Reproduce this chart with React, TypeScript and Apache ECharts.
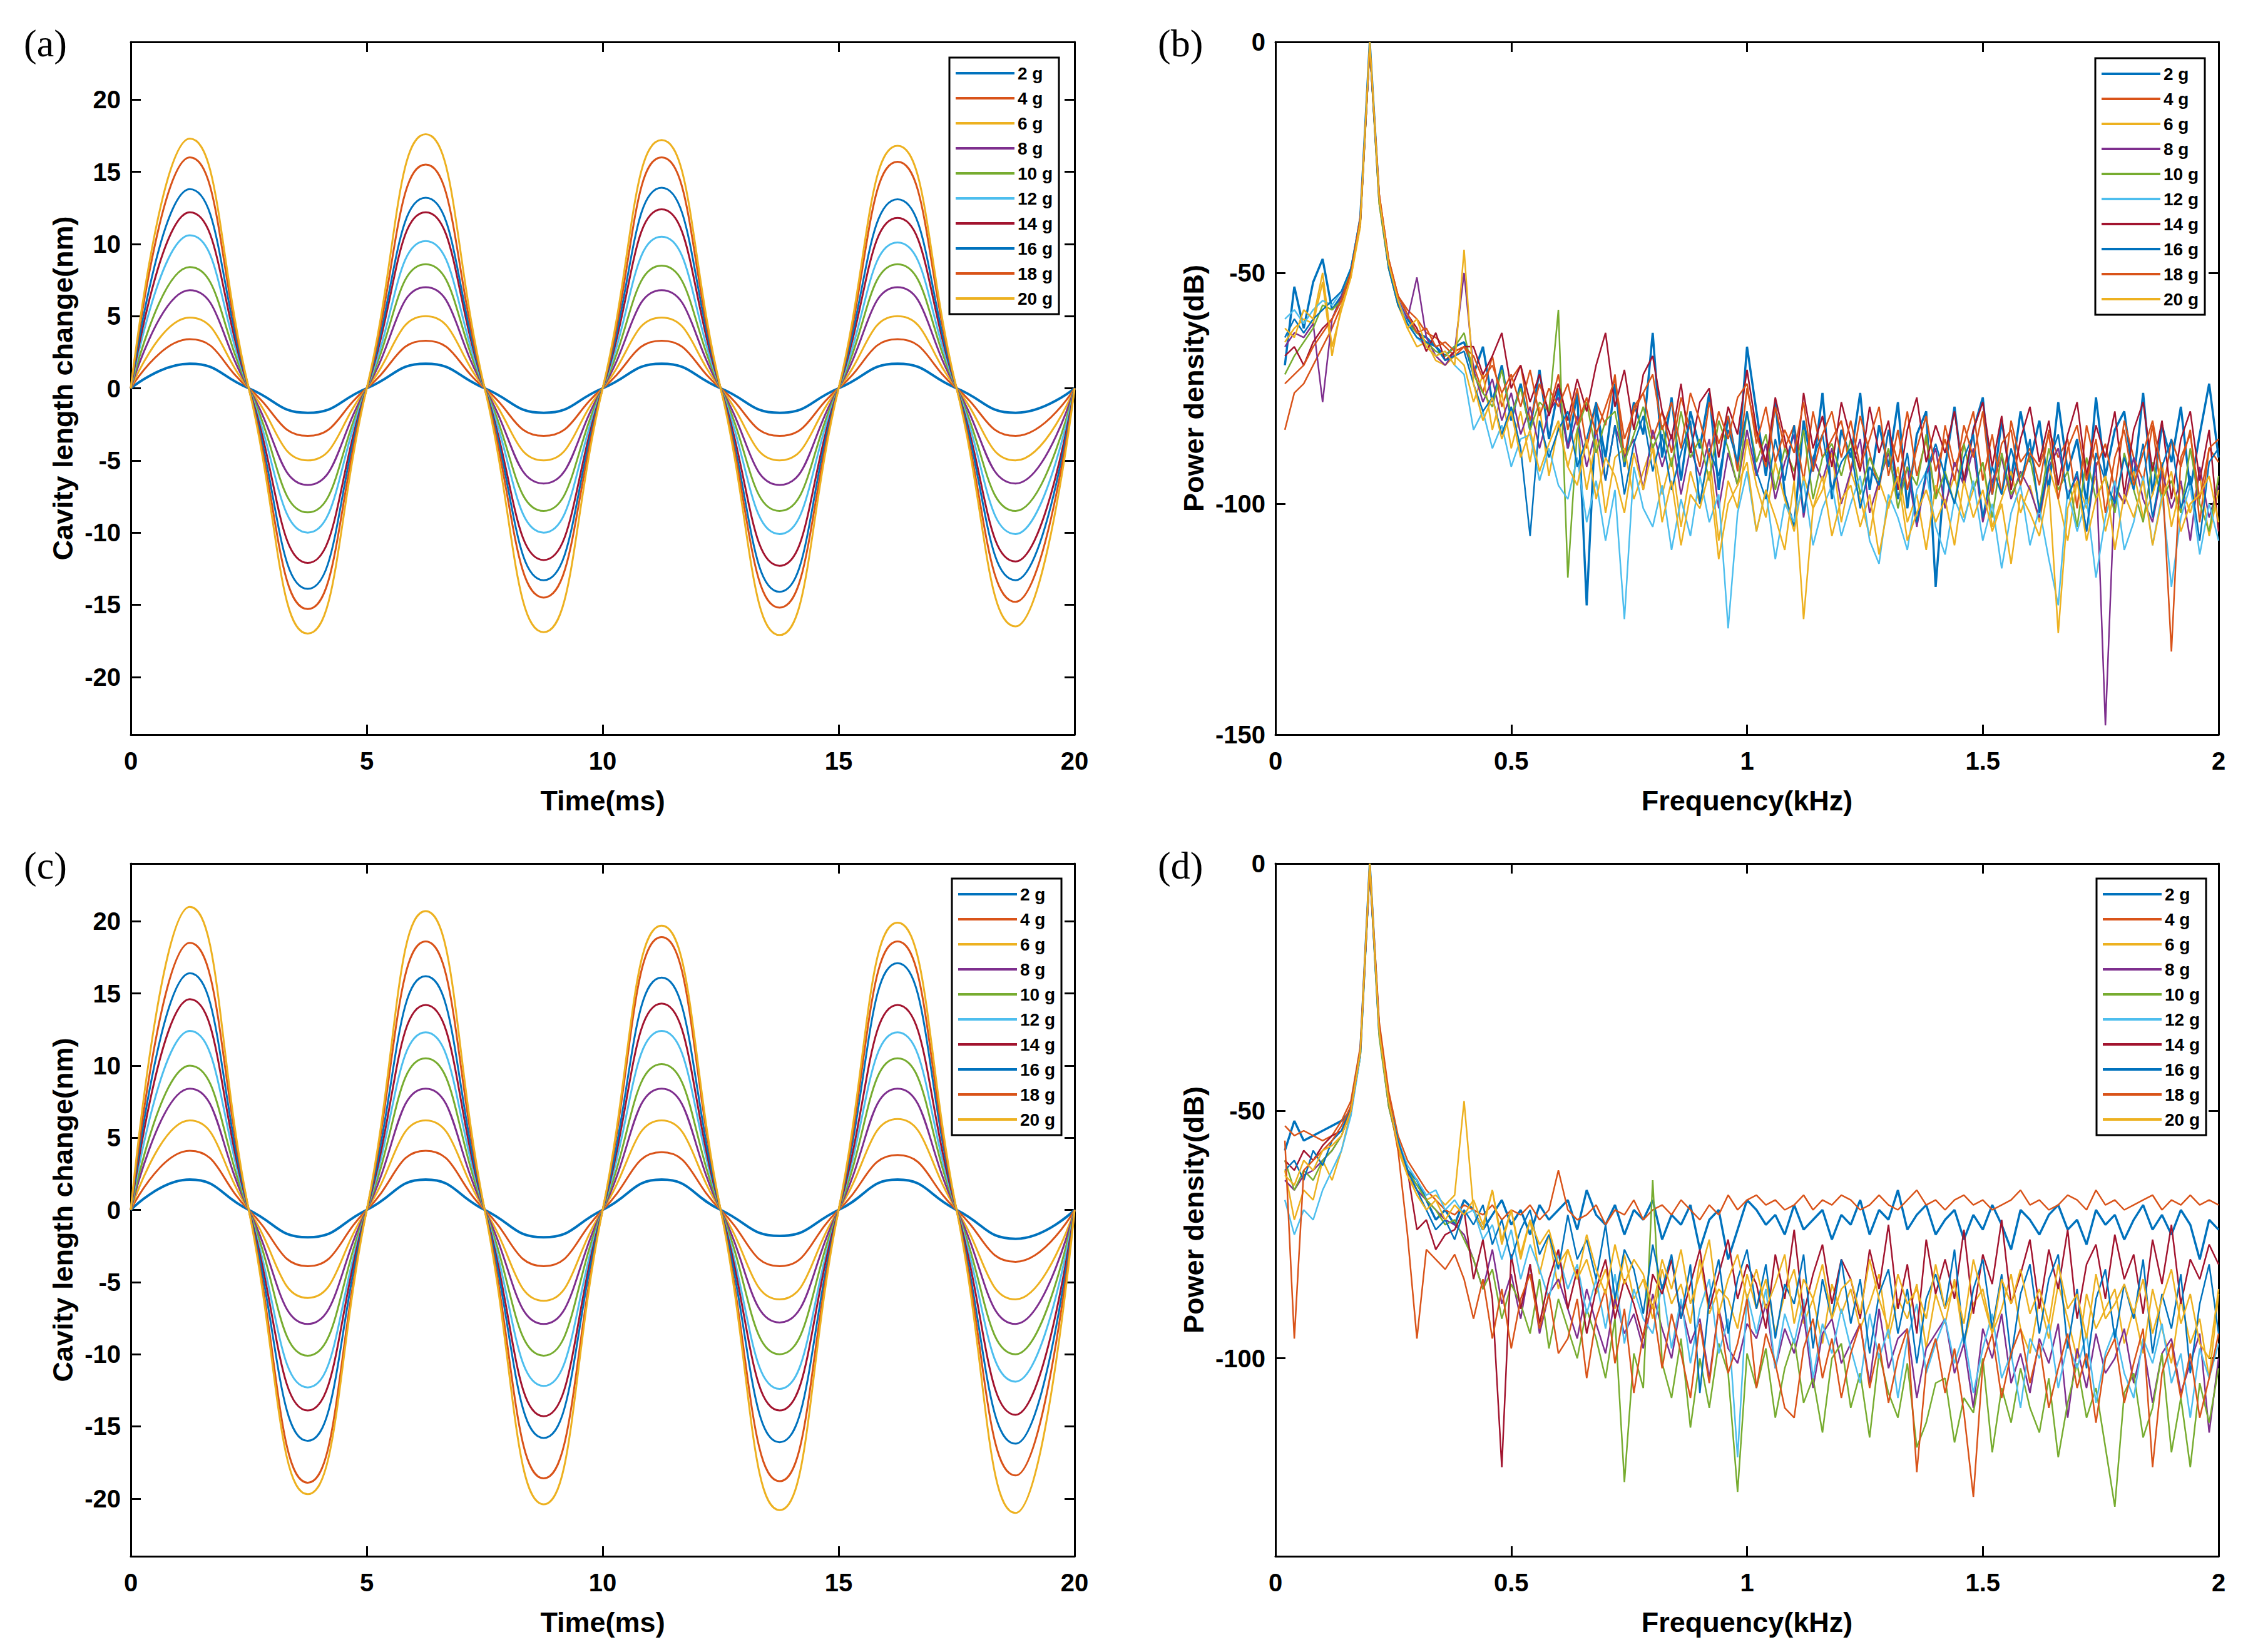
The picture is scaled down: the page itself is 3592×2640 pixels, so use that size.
import React, { useEffect, useRef } from 'react';
import * as echarts from 'echarts';

const FONT = '"Liberation Sans", Arial, sans-serif';

const seriesNames = ['2 g', '4 g', '6 g', '8 g', '10 g', '12 g', '14 g', '16 g', '18 g', '20 g'];
const lineColors = [
  '#0072BD', '#D95319', '#EDB120', '#7E2F8E', '#77AC30',
  '#4DBEEE', '#A2142F', '#0072BD', '#D95319', '#EDB120',
];

// time axis of the displacement plots (ms): zero crossings and extremes
const timeMs = [0, 1.25, 2.5, 3.75, 5, 6.25, 7.5, 8.75, 10, 11.25, 12.5, 13.75, 15, 16.25, 17.5, 18.75, 20];
// frequency grid of the spectra (kHz), 0.02 .. 2.00
const freqKHz = Array.from({ length: 100 }, (_, i) => Number(((i + 1) * 0.02).toFixed(2)));

const cavityTicks = [-20, -15, -10, -5, 0, 5, 10, 15, 20];
const powerTicksB = [-150, -100, -50, 0];
const powerTicksD = [-100, -50, 0];

// (a) cavity length change, nm
const a2g = [0, 1.7, 0, -1.7, 0, 1.7, 0, -1.7, 0, 1.7, 0, -1.7, 0, 1.7, 0, -1.7, 0];
const a4g = [0, 3.4, 0, -3.3, 0, 3.3, 0, -3.3, 0, 3.3, 0, -3.3, 0, 3.4, 0, -3.3, 0];
const a6g = [0, 4.9, 0, -5.0, 0, 5.0, 0, -5.0, 0, 4.9, 0, -5.0, 0, 5.0, 0, -5.0, 0];
const a8g = [0, 6.8, 0, -6.7, 0, 7.0, 0, -6.6, 0, 6.8, 0, -6.7, 0, 7.0, 0, -6.6, 0];
const a10g = [0, 8.4, 0, -8.6, 0, 8.6, 0, -8.5, 0, 8.5, 0, -8.5, 0, 8.6, 0, -8.5, 0];
const a12g = [0, 10.6, 0, -10.0, 0, 10.2, 0, -10.0, 0, 10.5, 0, -10.1, 0, 10.1, 0, -10.1, 0];
const a14g = [0, 12.2, 0, -12.1, 0, 12.2, 0, -11.9, 0, 12.4, 0, -12.3, 0, 11.8, 0, -12.0, 0];
const a16g = [0, 13.8, 0, -13.9, 0, 13.2, 0, -13.3, 0, 13.9, 0, -14.1, 0, 13.1, 0, -13.3, 0];
const a18g = [0, 16.0, 0, -15.3, 0, 15.5, 0, -14.5, 0, 16.0, 0, -15.2, 0, 15.7, 0, -14.8, 0];
const a20g = [0, 17.3, 0, -17.0, 0, 17.6, 0, -16.9, 0, 17.2, 0, -17.1, 0, 16.8, 0, -16.5, 0];

// (c) cavity length change, nm
const c2g = [0, 2.1, 0, -1.9, 0, 2.1, 0, -1.9, 0, 2.1, 0, -1.8, 0, 2.1, 0, -2.0, 0];
const c4g = [0, 4.1, 0, -3.9, 0, 4.1, 0, -3.9, 0, 4.0, 0, -3.9, 0, 3.8, 0, -3.6, 0];
const c6g = [0, 6.2, 0, -6.1, 0, 6.2, 0, -6.3, 0, 6.2, 0, -6.2, 0, 6.3, 0, -6.2, 0];
const c8g = [0, 8.4, 0, -7.9, 0, 8.4, 0, -7.9, 0, 8.4, 0, -7.8, 0, 8.4, 0, -7.9, 0];
const c10g = [0, 10.0, 0, -10.1, 0, 10.5, 0, -10.1, 0, 10.1, 0, -10.0, 0, 10.5, 0, -10.0, 0];
const c12g = [0, 12.4, 0, -12.3, 0, 12.3, 0, -12.2, 0, 12.4, 0, -12.4, 0, 12.3, 0, -11.9, 0];
const c14g = [0, 14.6, 0, -13.9, 0, 14.2, 0, -14.3, 0, 14.3, 0, -13.9, 0, 14.2, 0, -14.2, 0];
const c16g = [0, 16.4, 0, -16.0, 0, 16.2, 0, -15.8, 0, 16.1, 0, -16.1, 0, 17.1, 0, -16.2, 0];
const c18g = [0, 18.5, 0, -18.9, 0, 18.6, 0, -18.6, 0, 18.9, 0, -18.8, 0, 18.6, 0, -18.4, 0];
const c20g = [0, 21.0, 0, -19.7, 0, 20.7, 0, -20.4, 0, 19.7, 0, -20.8, 0, 19.9, 0, -21.0, 0];

// (b) power density, dB
const b2g = [
  -70, -53, -62, -52, -47, -58, -55, -50, -38, 0,
  -34, -48, -56, -60, -63, -64, -66, -68, -66, -65,
  -72, -66, -78, -70, -82, -74, -84, -71, -86, -75,
  -88, -76, -122, -79, -90, -74, -92, -78, -85, -63,
  -90, -77, -95, -80, -88, -76, -97, -81, -92, -66,
  -80, -94, -78, -98, -105, -82, -93, -76, -99, -84,
  -90, -76, -97, -83, -92, -78, -101, -85, -80, -118,
  -92, -79, -96, -84, -77, -98, -82, -95, -80, -91,
  -82, -97, -78, -93, -86, -100, -77, -94, -84, -80,
  -95, -76, -98, -83, -91, -79, -97, -85, -74, -90,
];
const b4g = [
  -84, -76, -74, -70, -66, -62, -57, -50, -39, -1,
  -33, -47, -55, -58, -60, -63, -64, -66, -68, -66,
  -70, -76, -68, -79, -73, -70, -82, -74, -80, -72,
  -84, -75, -88, -78, -83, -72, -90, -79, -76, -86,
  -80, -89, -77, -84, -92, -78, -87, -81, -93, -75,
  -85, -92, -79, -88, -83, -95, -80, -90, -86, -82,
  -93, -81, -89, -97, -84, -91, -80, -94, -86, -99,
  -83, -92, -87, -80, -95, -85, -98, -82, -91, -88,
  -96, -84, -90, -86, -101, -83, -92, -87, -97, -82,
  -90, -95, -83, -99, -86, -92, -84, -104, -88, -91,
];
const b6g = [
  -65, -62, -60, -61, -52, -68, -57, -51, -40, -1,
  -35, -49, -57, -62, -66, -65, -69, -70, -68, -70,
  -78, -72, -84, -76, -88, -80, -91, -79, -94, -83,
  -92, -84, -97, -86, -102, -90, -88, -99, -93, -87,
  -98, -90, -105, -93, -100, -89, -108, -95, -101, -86,
  -96, -103, -91, -99, -106, -94, -101, -97, -89, -104,
  -93, -99, -107, -95, -101, -92, -104, -98, -110, -96,
  -100, -94, -103, -97, -91, -105, -99, -93, -102, -96,
  -104, -92, -99, -108, -95, -101, -94, -106, -97, -100,
  -93, -103, -98, -91, -105, -96, -102, -94, -107, -97,
];
const b8g = [
  -66, -63, -64, -61, -78, -60, -55, -50, -39, -1,
  -34, -48, -56, -60, -51, -64, -68, -70, -67, -50,
  -71, -78, -73, -82, -76, -85, -79, -88, -80, -77,
  -88, -81, -92, -84, -95, -83, -90, -86, -97, -84,
  -92, -85, -98, -88, -94, -86, -101, -89, -96, -84,
  -94, -87, -99, -91, -85, -103, -90, -95, -88, -100,
  -93, -86, -102, -95, -89, -99, -92, -105, -94, -88,
  -101, -91, -96, -88, -104, -95, -90, -99, -93, -97,
  -103, -92, -88, -98, -94, -106, -91, -148, -96, -100,
  -90, -99, -104, -93, -101, -95, -108, -92, -103, -96,
];
const b10g = [
  -72, -68, -65, -62, -57, -58, -56, -49, -39, -1,
  -35, -49, -57, -61, -63, -65, -67, -68, -66, -63,
  -72, -76, -79, -71, -81, -75, -84, -78, -80, -58,
  -116, -84, -78, -89, -82, -80, -91, -85, -79, -88,
  -83, -92, -80, -90, -86, -95, -82, -88, -96, -80,
  -91, -85, -97, -88, -93, -84, -99, -90, -87, -94,
  -86, -98, -90, -95, -88, -101, -92, -96, -85, -99,
  -93, -100, -87, -97, -91, -103, -89, -98, -94, -90,
  -101, -88, -97, -93, -105, -90, -99, -94, -102, -89,
  -97, -104, -91, -99, -95, -102, -88, -100, -106, -94,
];
const b12g = [
  -60, -58, -61, -58, -56, -57, -54, -49, -38, -1,
  -34, -48, -56, -61, -64, -66, -68, -67, -70, -72,
  -84, -80, -88, -83, -92, -86, -85, -95, -88, -96,
  -99, -90, -104, -95, -108, -97, -125, -92, -101, -105,
  -96, -110, -99, -107, -94, -104, -98, -127, -102, -93,
  -106, -97, -112, -100, -104, -95, -109, -101, -96, -107,
  -100, -94, -108, -113, -98, -103, -110, -97, -93, -105,
  -111, -99, -104, -95, -108, -100, -114, -102, -96, -109,
  -101, -112, -122, -97, -106, -99, -116, -103, -95, -110,
  -104, -94, -109, -98, -118, -103, -96, -111, -100, -108,
];
const b14g = [
  -68, -66, -70, -65, -62, -60, -56, -50, -39, -1,
  -34, -48, -55, -59, -62, -67, -63, -69, -67, -66,
  -66, -72, -68, -63, -75, -70, -78, -72, -81, -74,
  -82, -73, -80, -70, -63, -79, -71, -84, -72, -68,
  -80, -86, -74, -89, -78, -75, -90, -79, -85, -71,
  -84, -91, -77, -86, -95, -76, -88, -81, -92, -78,
  -86, -93, -79, -89, -82, -97, -84, -77, -91, -83,
  -89, -80, -95, -84, -78, -92, -81, -97, -86, -79,
  -91, -82, -96, -85, -78, -94, -83, -90, -80, -98,
  -84, -78, -93, -82, -99, -86, -80, -95, -84, -106,
];
const b16g = [
  -64, -60, -63, -60, -58, -56, -54, -49, -38, -1,
  -34, -49, -57, -61, -64, -65, -66, -69, -68, -67,
  -74, -80, -77, -85, -79, -88, -107, -82, -90, -84,
  -80, -92, -86, -78, -95, -83, -98, -87, -81, -93,
  -85, -97, -89, -82, -100, -88, -94, -84, -91, -80,
  -93, -99, -86, -95, -83, -102, -90, -85, -97, -91,
  -88, -101, -92, -96, -84, -99, -89, -104, -93, -87,
  -94, -100, -90, -85, -103, -92, -98, -88, -96, -86,
  -102, -91, -85, -99, -93, -106, -89, -95, -100, -90,
  -97, -87, -103, -92, -86, -101, -94, -108, -91, -88,
];
const b18g = [
  -74, -72, -70, -66, -63, -60, -56, -50, -38, -1,
  -33, -47, -55, -59, -63, -62, -66, -65, -67, -66,
  -68, -73, -70, -76, -72, -79, -71, -81, -75, -79,
  -74, -83, -77, -85, -79, -73, -86, -80, -76, -72,
  -84, -78, -88, -76, -82, -90, -80, -86, -77, -74,
  -87, -79, -91, -84, -89, -78, -93, -85, -80, -90,
  -82, -92, -86, -79, -94, -84, -97, -88, -81, -93,
  -86, -95, -83, -90, -80, -98, -87, -84, -96, -89,
  -92, -85, -99, -88, -83, -95, -86, -102, -90, -84,
  -96, -89, -82, -93, -132, -90, -85, -99, -88, -86,
];
const b20g = [
  -62, -64, -58, -60, -50, -66, -58, -51, -39, 0,
  -34, -48, -56, -62, -60, -66, -68, -67, -70, -45,
  -74, -82, -77, -86, -80, -90, -84, -93, -87, -82,
  -92, -96, -86, -99, -90, -94, -102, -89, -97, -88,
  -104, -95, -109, -98, -101, -93, -112, -100, -96, -91,
  -106, -97, -103, -110, -95, -125, -101, -94, -107, -99,
  -96, -105, -98, -111, -100, -94, -108, -102, -97, -104,
  -99, -109, -95, -103, -97, -106, -100, -113, -98, -102,
  -107, -96, -128, -101, -95, -108, -99, -94, -110, -98,
  -103, -95, -109, -99, -93, -106, -100, -98, -94, -104,
];

// (d) power density, dB
const d2g = [
  -58, -52, -56, -55, -54, -53, -52, -50, -38, 0,
  -34, -48, -56, -62, -64, -68, -72, -70, -73, -68,
  -70, -74, -71, -68, -73, -70, -75, -69, -72, -70,
  -68, -74, -66, -71, -73, -69, -75, -70, -72, -68,
  -76, -71, -73, -69, -78, -72, -70, -80, -74, -68,
  -70, -73, -71, -75, -69, -74, -72, -70, -76, -71,
  -73, -68, -75, -70, -72, -66, -74, -71, -69, -75,
  -72, -70, -76, -71, -74, -69, -73, -78, -70, -72,
  -75, -71, -69, -74, -72, -77, -70, -73, -71, -76,
  -72, -69, -74, -71, -75, -70, -73, -80, -72, -74,
];
const d4g = [
  -53, -55, -54, -55, -56, -55, -52, -48, -37, 0,
  -32, -46, -55, -60, -63, -66, -68, -70, -71, -69,
  -70, -71, -69, -72, -70, -71, -69, -72, -70, -62,
  -70, -72, -71, -69, -73, -70, -71, -68, -72, -70,
  -69, -71, -68, -70, -72, -69, -71, -67, -70, -68,
  -67, -69, -68, -70, -69, -67, -70, -68, -69, -67,
  -68, -70, -69, -67, -69, -70, -68, -66, -69, -68,
  -70, -68, -67, -69, -68, -70, -69, -68, -66, -69,
  -68, -70, -69, -67, -68, -70, -66, -69, -68, -70,
  -69, -68, -67, -70, -68, -69, -67, -69, -68, -69,
];
const d6g = [
  -62, -72, -66, -68, -60, -64, -58, -50, -39, 0,
  -34, -48, -58, -63, -66, -68, -67, -69, -67, -48,
  -70, -74, -66, -77, -70, -80, -72, -83, -75, -86,
  -78, -84, -80, -87, -82, -90, -79, -88, -84, -92,
  -82, -89, -85, -93, -80, -91, -86, -88, -94, -83,
  -90, -84, -95, -87, -82, -93, -88, -97, -85, -91,
  -86, -94, -89, -83, -96, -88, -92, -85, -98, -87,
  -93, -84, -97, -89, -86, -95, -90, -83, -94, -99,
  -88, -96, -85, -92, -100, -87, -94, -90, -86, -97,
  -90, -99, -86, -94, -101, -88, -97, -92, -104, -87,
];
const d8g = [
  -64, -66, -63, -62, -60, -58, -55, -50, -38, -1,
  -34, -49, -57, -62, -66, -68, -70, -72, -73, -75,
  -80, -86, -78, -89, -83, -92, -81, -95, -87, -84,
  -90, -96, -86, -93, -99, -88, -95, -91, -98, -87,
  -94, -100, -89, -97, -92, -104, -90, -98, -101, -93,
  -96, -89, -102, -94, -99, -91, -106, -95, -92, -101,
  -97, -93, -105, -90, -102, -96, -94, -108, -98, -95,
  -92, -103, -97, -110, -94, -100, -91, -105, -99, -107,
  -96, -101, -93, -112, -98, -106, -95, -103, -100, -94,
  -105, -97, -109, -99, -96, -107, -101, -95, -115, -100,
];
const d10g = [
  -60, -66, -62, -64, -60, -58, -55, -50, -39, -1,
  -35, -49, -57, -62, -65, -68, -70, -73, -72, -76,
  -80, -86, -82, -92, -85, -89, -95, -84, -98, -88,
  -94, -100, -90, -96, -104, -92, -125, -99, -106, -64,
  -101, -108, -96, -114, -100, -110, -97, -103, -127, -99,
  -106, -98, -112, -102, -96, -109, -104, -115, -100, -97,
  -110, -103, -116, -99, -107, -112, -101, -118, -113, -105,
  -104, -117, -108, -111, -100, -119, -106, -113, -102, -110,
  -115, -104, -120, -109, -101, -112, -106, -118, -130, -107,
  -103, -116, -110, -99, -119, -108, -122, -105, -113, -102,
];
const d12g = [
  -68, -75, -70, -72, -66, -62, -58, -51, -39, -1,
  -34, -48, -56, -61, -64, -67, -66, -70, -68, -71,
  -70, -76, -73, -80, -74, -84, -77, -82, -88, -79,
  -86, -81, -91, -84, -94, -83, -97, -86, -92, -95,
  -85, -98, -88, -101, -90, -84, -99, -92, -120, -87,
  -95, -86, -102, -91, -97, -88, -104, -93, -99, -90,
  -98, -105, -91, -100, -94, -108, -96, -89, -103, -97,
  -92, -101, -95, -107, -98, -91, -104, -99, -110, -96,
  -100, -93, -106, -97, -102, -95, -109, -99, -94, -103,
  -108, -96, -101, -93, -105, -99, -112, -98, -104, -97,
];
const d14g = [
  -60, -62, -58, -60, -57, -55, -54, -50, -38, -1,
  -33, -48, -57, -62, -74, -72, -78, -75, -74, -70,
  -84, -76, -88, -122, -79, -90, -81, -93, -84, -78,
  -90, -82, -95, -86, -80, -92, -84, -89, -96, -83,
  -87, -80, -92, -85, -78, -90, -83, -76, -88, -81,
  -85, -94, -79, -88, -74, -91, -83, -77, -89, -80,
  -84, -92, -78, -86, -73, -90, -81, -95, -76, -87,
  -80, -88, -74, -91, -79, -85, -72, -89, -83, -76,
  -90, -78, -86, -74, -92, -81, -77, -88, -75, -84,
  -79, -91, -76, -85, -73, -89, -80, -84, -77, -81,
];
const d16g = [
  -62, -60, -64, -58, -61, -56, -54, -49, -38, -1,
  -34, -48, -56, -62, -66, -70, -74, -72, -76, -70,
  -73, -69, -77, -72, -80, -74, -70, -79, -75, -82,
  -71, -80, -76, -84, -73, -88, -78, -82, -91, -77,
  -86, -79, -92, -81, -107, -88, -80, -95, -84, -78,
  -90, -81, -96, -85, -89, -79, -98, -84, -92, -80,
  -93, -84, -99, -87, -82, -95, -86, -101, -88, -83,
  -90, -78, -97, -86, -80, -94, -83, -100, -87, -81,
  -95, -84, -79, -98, -86, -102, -88, -82, -96, -85,
  -92, -80, -99, -87, -94, -83, -103, -89, -81, -95,
];
const d18g = [
  -56, -96, -62, -60, -58, -56, -53, -49, -38, -1,
  -33, -47, -58, -75, -96, -78, -80, -82, -79, -84,
  -92, -84, -96, -86, -98, -88, -83, -94, -87, -99,
  -96, -88, -104, -92, -86, -101, -90, -107, -95, -89,
  -102, -91, -99, -108, -93, -105, -90, -103, -97, -88,
  -106, -95, -101, -110, -112, -98, -92, -104, -96, -108,
  -99, -93, -106, -97, -109, -100, -94, -123, -102, -96,
  -107, -98, -111, -128, -101, -95, -108, -99, -94, -105,
  -97, -110, -102, -95, -106, -99, -113, -100, -96, -109,
  -101, -94, -122, -103, -97, -108, -99, -112, -104, -95,
];
const d20g = [
  -63, -65, -60, -62, -58, -57, -55, -50, -38, 0,
  -34, -48, -57, -63, -67, -70, -68, -72, -69, -71,
  -68, -73, -66, -76, -70, -79, -72, -77, -74, -81,
  -78, -84, -75, -82, -87, -77, -85, -80, -83, -90,
  -80, -86, -78, -89, -83, -76, -91, -84, -79, -88,
  -82, -90, -85, -79, -93, -84, -88, -81, -92, -86,
  -84, -91, -80, -88, -94, -83, -89, -86, -92, -81,
  -90, -85, -93, -80, -88, -95, -84, -89, -82, -91,
  -86, -93, -81, -90, -87, -96, -83, -92, -89, -85,
  -91, -84, -95, -88, -82, -93, -87, -97, -100, -86,
];

const cavityA = [a2g, a4g, a6g, a8g, a10g, a12g, a14g, a16g, a18g, a20g];
const cavityC = [c2g, c4g, c6g, c8g, c10g, c12g, c14g, c16g, c18g, c20g];
const powerB = [b2g, b4g, b6g, b8g, b10g, b12g, b14g, b16g, b18g, b20g];
const powerD = [d2g, d4g, d6g, d8g, d10g, d12g, d14g, d16g, d18g, d20g];

const panels = [
  {
    tag: '(a)', tagX: 38, tagY: 38,
    grid: { left: 209, top: 67, width: 1508, height: 1107 },
    legend: { left: 1517, top: 92 },
    xs: timeMs, rows: cavityA, smooth: true, width: 3,
    x: { min: 0, max: 20, interval: 5, name: 'Time(ms)' },
    y: { min: -24, max: 24, ticks: cavityTicks, name: 'Cavity length change(nm)', gap: 86 },
  },
  {
    tag: '(b)', tagX: 1850, tagY: 38,
    grid: { left: 2038, top: 67, width: 1507, height: 1107 },
    legend: { left: 3348, top: 93 },
    xs: freqKHz, rows: powerB, smooth: false, width: 2.5,
    x: { min: 0, max: 2, interval: 0.5, name: 'Frequency(kHz)' },
    y: { min: -150, max: 0, ticks: powerTicksB, name: 'Power density(dB)', gap: 108 },
  },
  {
    tag: '(c)', tagX: 38, tagY: 1352,
    grid: { left: 209, top: 1380, width: 1508, height: 1107 },
    legend: { left: 1521, top: 1404 },
    xs: timeMs, rows: cavityC, smooth: true, width: 3,
    x: { min: 0, max: 20, interval: 5, name: 'Time(ms)' },
    y: { min: -24, max: 24, ticks: cavityTicks, name: 'Cavity length change(nm)', gap: 86 },
  },
  {
    tag: '(d)', tagX: 1850, tagY: 1352,
    grid: { left: 2038, top: 1380, width: 1507, height: 1107 },
    legend: { left: 3350, top: 1404 },
    xs: freqKHz, rows: powerD, smooth: false, width: 2.5,
    x: { min: 0, max: 2, interval: 0.5, name: 'Frequency(kHz)' },
    y: { min: -140, max: 0, ticks: powerTicksD, name: 'Power density(dB)', gap: 108 },
  },
];

const axisLine = { show: true, onZero: false, lineStyle: { color: '#000', width: 3 } };
const tickStyle = { color: '#000', width: 3 };
const labelStyle = { color: '#000', fontSize: 40, fontWeight: 'bold' as const, fontFamily: FONT };
const nameStyle = { color: '#000', fontSize: 45, fontWeight: 'bold' as const, fontFamily: FONT };

const App: React.FC = () => {
  const chartRef = useRef<HTMLDivElement>(null);

  useEffect(() => {
    if (!chartRef.current) return;
    const chart = echarts.init(chartRef.current, null, { renderer: 'svg' });

    const xAxis: any[] = [];
    const yAxis: any[] = [];
    const series: any[] = [];

    panels.forEach((p, pi) => {
      const xBase = { type: 'value', gridIndex: pi, min: p.x.min, max: p.x.max, interval: p.x.interval, splitLine: { show: false }, axisLine };
      xAxis.push({
        ...xBase,
        position: 'bottom',
        name: p.x.name,
        nameLocation: 'middle',
        nameGap: 83,
        nameTextStyle: nameStyle,
        axisTick: { inside: true, length: 16, lineStyle: tickStyle },
        axisLabel: { ...labelStyle, margin: 22 },
      });
      xAxis.push({
        ...xBase,
        position: 'top',
        axisTick: { inside: true, length: 16, lineStyle: tickStyle },
        axisLabel: { show: false },
      });
      const yBase = { type: 'value', gridIndex: pi, min: p.y.min, max: p.y.max, splitLine: { show: false }, axisLine };
      yAxis.push({
        ...yBase,
        position: 'left',
        name: p.y.name,
        nameLocation: 'middle',
        nameGap: p.y.gap,
        nameRotate: 90,
        nameTextStyle: nameStyle,
        axisTick: { inside: true, length: 16, lineStyle: tickStyle, customValues: p.y.ticks },
        axisLabel: { ...labelStyle, margin: 16, customValues: p.y.ticks },
      });
      yAxis.push({
        ...yBase,
        position: 'right',
        axisTick: { inside: true, length: 16, lineStyle: tickStyle, customValues: p.y.ticks },
        axisLabel: { show: false, customValues: p.y.ticks },
      });

      p.rows.forEach((row, k) => {
        series.push({
          name: seriesNames[k],
          type: 'line',
          xAxisIndex: pi * 2,
          yAxisIndex: pi * 2,
          data: row.map((v, j) => [p.xs[j], v]),
          smooth: p.smooth,
          symbol: 'none',
          lineStyle: { color: lineColors[k], width: k === 0 ? p.width + 1 : p.width },
          itemStyle: { color: lineColors[k] },
          emphasis: { disabled: true },
          z: 2 + k * 0.01,
        });
      });
    });

    const legends = panels.map((p) => ({
      data: seriesNames.map((n, k) => ({ name: n, icon: 'rect', itemStyle: { color: lineColors[k] } })),
      orient: 'vertical',
      left: p.legend.left,
      top: p.legend.top,
      itemWidth: 94,
      itemHeight: 4,
      itemGap: 10,
      padding: [10, 10, 10, 10],
      backgroundColor: '#fff',
      borderColor: '#000',
      borderWidth: 3,
      selectedMode: false,
      textStyle: { color: '#000', fontSize: 28, fontWeight: 'bold', fontFamily: FONT, lineHeight: 30 },
    }));

    const graphic = panels.map((p) => ({
      type: 'text',
      left: p.tagX,
      top: p.tagY,
      style: { text: p.tag, font: '62px "Liberation Serif", "Times New Roman", serif', fill: '#000' },
    }));

    chart.setOption({
      animation: false,
      backgroundColor: '#fff',
      grid: panels.map((p) => ({ ...p.grid, containLabel: false })),
      xAxis,
      yAxis,
      legend: legends,
      graphic,
      series,
    });

    const handleResize = () => chart.resize();
    window.addEventListener('resize', handleResize);
    return () => {
      window.removeEventListener('resize', handleResize);
      chart.dispose();
    };
  }, []);

  return (
    <div
      ref={chartRef}
      style={{ position: 'absolute', left: 0, top: 0, width: 3592, height: 2640, background: '#fff' }}
    />
  );
};

export default App;
